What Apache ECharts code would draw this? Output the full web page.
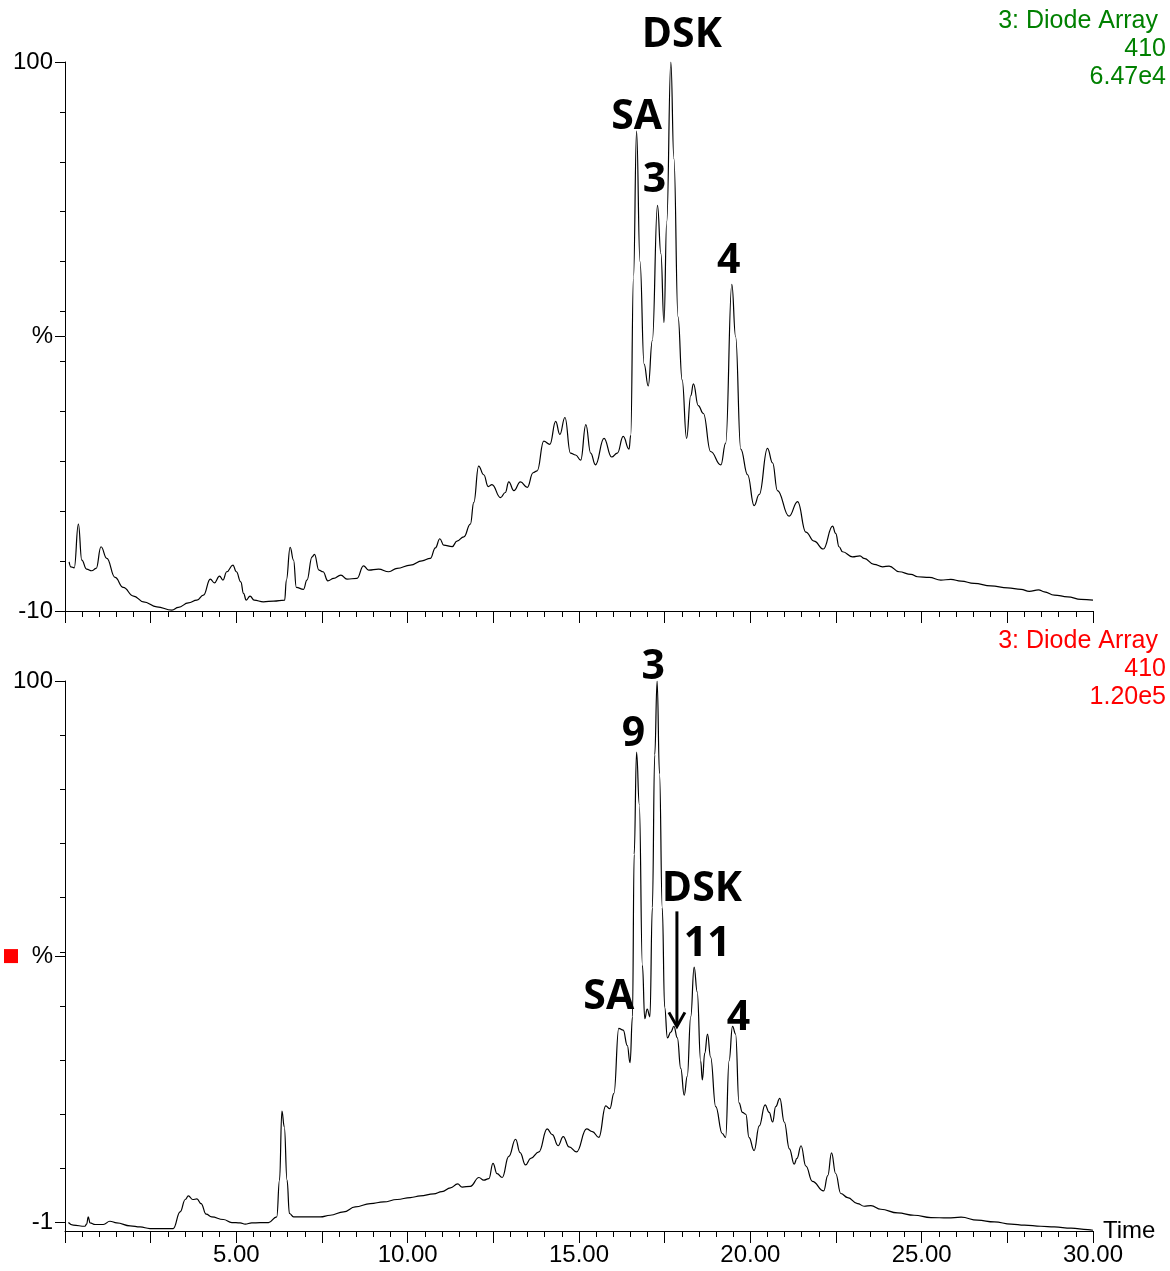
<!DOCTYPE html>
<html><head><meta charset="utf-8">
<script src="https://cdn.jsdelivr.net/npm/echarts@6/dist/echarts.min.js"></script>
<style>html,body{margin:0;padding:0;background:#fff}#c{width:1170px;height:1271px}</style>
</head><body><div id="c"></div>
<script>
// ---------- DATA ----------
const topTimes = [0.12,0.17,0.27,0.39,0.49,0.63,0.78,0.91,1.05,1.22,1.46,1.70,2.00,2.29,2.68,3.12,3.31,3.60,3.85,4.04,4.24,4.36,4.51,4.61,4.72,4.90,5.00,5.13,5.21,5.29,5.40,5.52,5.79,6.09,6.41,6.46,6.57,6.67,6.75,6.96,7.06,7.21,7.28,7.41,7.53,7.67,7.84,8.05,8.23,8.52,8.71,8.86,9.15,9.45,9.69,10.08,10.42,10.66,10.81,10.94,11.05,11.30,11.44,11.64,11.83,11.93,12.07,12.22,12.35,12.46,12.71,12.85,12.95,13.10,13.29,13.49,13.66,13.78,13.97,14.15,14.32,14.44,14.59,14.75,14.90,15.05,15.20,15.34,15.48,15.73,15.95,16.12,16.29,16.46,16.51,16.59,16.68,16.78,16.90,17.02,17.14,17.29,17.39,17.48,17.56,17.68,17.77,17.89,18.01,18.14,18.26,18.34,18.48,18.63,18.84,19.14,19.28,19.46,19.57,19.72,19.92,20.11,20.26,20.50,20.65,20.79,21.13,21.38,21.62,21.86,22.13,22.40,22.49,22.59,22.69,22.98,23.20,23.32,23.61,23.86,24.05,24.34,24.69,24.88,25.22,25.56,25.85,26.15,26.53,27.02,27.51,27.90,28.14,28.41,28.58,28.87,29.26,29.65,30.00];
const topValues = [-0.14,-1.14,-1.34,7.41,0.2,-1.6,-1.94,-1.46,2.87,0.54,-3.27,-5.27,-7.01,-8.16,-9.16,-9.82,-9.28,-8.36,-7.82,-6.81,-3.61,-4.35,-3.0,-3.8,-2.14,-0.8,-2.14,-4.15,-6.47,-7.82,-7.01,-7.82,-8.16,-8.02,-7.82,-3.81,2.75,0.2,-5.27,-5.67,-3.81,0.86,1.34,-1.8,-2.14,-3.95,-3.47,-2.8,-3.61,-3.47,-0.94,-1.8,-1.6,-2.14,-1.46,-0.8,0.06,0.54,2.66,4.48,3.21,2.9,4.0,4.87,7.4,11.76,19.04,17.3,14.93,15.32,12.71,13.74,15.87,14.13,15.87,14.77,17.7,18.09,24.02,23.39,27.98,25.37,28.77,21.65,21.26,20.23,27.35,21.65,19.28,24.58,20.86,21.65,24.97,22.44,25.21,56.87,86.15,60.03,39.46,35.1,44.2,71.27,61.62,47.77,67.95,100,80.61,48.95,36.29,24.58,33.13,35.5,31.15,29.57,21.96,19.28,23.63,55.44,45.0,22.44,17.3,11.13,13.34,22.6,19.67,14.13,8.99,11.92,5.82,4.0,2.42,7.0,5.55,2.87,1.87,0.86,1.06,0.54,-0.66,-1.14,-1.0,-2.14,-2.67,-3.14,-3.27,-3.81,-3.67,-4.0,-4.47,-4.95,-5.35,-5.67,-6.07,-5.75,-6.15,-6.81,-7.15,-7.68,-7.82];

const bottomTimes = [0.10,0.24,0.58,0.63,0.68,0.73,0.88,1.12,1.31,1.51,1.90,2.19,2.48,3.16,3.36,3.51,3.60,3.73,3.85,3.97,4.12,4.28,4.62,4.87,5.11,5.26,5.45,5.94,6.18,6.26,6.33,6.40,6.48,6.55,6.67,7.16,7.45,7.74,8.13,8.47,8.91,9.30,9.69,10.08,10.37,10.76,11.00,11.25,11.46,11.59,11.83,12.08,12.22,12.37,12.49,12.61,12.76,12.95,13.15,13.28,13.44,13.59,13.83,14.07,14.22,14.39,14.54,14.71,14.93,15.22,15.39,15.58,15.78,15.90,16.02,16.16,16.29,16.41,16.49,16.56,16.61,16.68,16.76,16.85,16.92,16.99,17.07,17.14,17.21,17.28,17.35,17.43,17.50,17.58,17.68,17.77,17.87,17.97,18.07,18.16,18.26,18.36,18.45,18.55,18.60,18.67,18.75,18.84,18.99,19.18,19.28,19.38,19.48,19.57,19.67,19.77,19.87,19.96,20.11,20.26,20.43,20.55,20.65,20.74,20.86,20.99,21.14,21.28,21.36,21.48,21.62,21.81,22.14,22.26,22.37,22.49,22.64,22.84,23.13,23.32,23.52,23.81,24.30,24.78,25.27,25.76,26.15,26.63,27.12,27.61,28.00,28.48,28.87,29.36,29.85,30.00];
const bottomValues = [-0.99,-1.49,-1.68,-1.3,0.06,-1.06,-1.36,-1.36,-0.75,-1.06,-1.62,-1.81,-2.11,-2.11,0.99,3.3,3.97,3.3,3.41,2.54,0.56,0.06,-0.43,-0.99,-1.06,-1.3,-1.06,-0.99,0.06,6.9,19.78,16.85,6.9,0.69,0.06,0.06,0.06,0.37,0.99,1.92,2.54,2.85,3.3,3.67,3.97,4.34,4.77,5.48,6.2,5.63,5.77,7.41,6.91,7.2,10.05,8.12,7.41,11.33,14.54,12.04,9.76,10.97,12.19,16.47,15.4,13.33,15.04,13.12,12.19,16.47,15.97,14.9,20.75,20.25,23.11,35.23,34.88,32.02,28.81,37.38,67.69,86.75,76.97,47.0,37.02,38.8,37.38,57.71,86.25,100,82.68,57.71,39.16,33.45,34.52,35.59,33.45,27.74,22.75,26.32,37.38,46.65,42.01,29.17,25.6,30.6,34.16,29.88,20.61,15.61,14.9,29.17,35.59,34.16,21.32,19.54,19.18,14.9,12.41,17.04,20.96,19.54,17.76,20.61,22.18,17.76,12.76,9.9,10.97,13.33,9.55,6.7,4.91,7.77,12.0,8.15,4.42,3.67,2.55,2.05,2.18,1.49,0.8,0.37,-0.06,-0.13,0.0,-0.56,-0.87,-1.3,-1.49,-1.68,-1.81,-2.05,-2.3,-2.43];

const xTickValues = [5, 10, 15, 20, 25, 30];
const xTickLabels = ['5.00', '10.00', '15.00', '20.00', '25.00', '30.00'];
const topYTicks = [100, 90, 80, 70, 60, 50, 40, 30, 20, 10, 0, -10];
const topYLabelValues = [100, 45, -10];
const topYLabelTexts = ['100', '%', '-10'];
const bottomYTicks = [100, 89.9, 79.8, 69.7, 59.6, 49.5, 39.4, 29.3, 19.2, 9.1, -1];
const bottomYLabelValues = [100, 48.7, -1];
const bottomYLabelTexts = ['100', '%', '-1'];
const topInfo = ['3: Diode Array', '410', '6.47e4'];
const bottomInfo = ['3: Diode Array', '410', '1.20e5'];
const topPeakNames = ['SA', '3', 'DSK', '4'];
const topPeakTimes = [16.68, 17.29, 17.68, 19.46];
const topPeakValues = [86.15, 71.27, 100, 55.44];
const bottomPeakNames = ['9', '3', 'SA', 'DSK', '11', '4'];
const bottomPeakTimes = [16.68, 17.28, 16.16, 17.77, 18.36, 19.48];
const bottomPeakValues = [86.75, 100, 35.23, 35.59, 46.65, 35.59];

// ---------- STYLE ----------
const FONT = '"Liberation Sans", Arial, Helvetica, sans-serif';
const LABEL_FONT = '"Open Sans", "Noto Sans", sans-serif';
const TOP_COLOR = '#008000';
const BOTTOM_COLOR = '#ff0000';

function pairs(ts, vs) { return ts.map((t, i) => [t, vs[i]]); }
function near(a, b) { return Math.abs(a - b) < 1e-6; }
function yLabelFormatter(vals, texts) {
  return function (v) {
    for (let i = 0; i < vals.length; i++) if (near(v, vals[i])) return texts[i];
    return '';
  };
}

function xAxis(gridIndex, withLabels) {
  return {
    type: 'value', gridIndex: gridIndex, min: 0, max: 30, interval: 2.5,
    axisLine: { show: true, onZero: false, lineStyle: { color: '#000', width: 1 } },
    axisTick: { show: true, length: 12, lineStyle: { color: '#000', width: 1 } },
    minorTick: { show: true, splitNumber: 5, length: 6, lineStyle: { color: '#000', width: 1 } },
    splitLine: { show: false }, minorSplitLine: { show: false },
    axisLabel: {
      show: withLabels, margin: 12, fontSize: 24, fontFamily: FONT, color: '#000',
      formatter: function (v) {
        const i = xTickValues.findIndex(x => near(x, v));
        return i >= 0 ? xTickLabels[i] : '';
      }
    },
    name: withLabels ? 'Time' : '',
    nameLocation: 'end', nameGap: 10,
    nameTextStyle: { fontSize: 24, fontFamily: FONT, color: '#000', align: 'left', verticalAlign: 'middle' }
  };
}

function yAxisMain(gridIndex, min, ticks) {
  return {
    type: 'value', gridIndex: gridIndex, min: min, max: 100, position: 'left',
    axisLine: { show: true, lineStyle: { color: '#000', width: 1 } },
    axisTick: { show: true, length: 5, customValues: ticks, lineStyle: { color: '#000', width: 1 } },
    axisLabel: { show: false },
    splitLine: { show: false }
  };
}
function yAxisLabels(gridIndex, min, vals, texts) {
  return {
    type: 'value', gridIndex: gridIndex, min: min, max: 100, position: 'left',
    axisLine: { show: false },
    axisTick: { show: true, length: 10, customValues: vals, lineStyle: { color: '#000', width: 1 } },
    axisLabel: {
      show: true, margin: 12, fontSize: 24, fontFamily: FONT, color: '#000',
      customValues: vals, formatter: yLabelFormatter(vals, texts)
    },
    splitLine: { show: false }
  };
}

const chart = echarts.init(document.getElementById('c'), null, { renderer: 'canvas' });
const option = {
  animation: false,
  backgroundColor: '#fff',
  grid: [
    { left: 65, right: 77, top: 62, height: 549 },
    { left: 65, right: 77, top: 681, height: 550 }
  ],
  xAxis: [xAxis(0, false), xAxis(1, true)],
  yAxis: [
    yAxisMain(0, -10, topYTicks),
    yAxisLabels(0, -10, topYLabelValues, topYLabelTexts),
    yAxisMain(1, -2.57, bottomYTicks),
    yAxisLabels(1, -2.57, bottomYLabelValues, bottomYLabelTexts)
  ],
  series: [
    {
      type: 'line', xAxisIndex: 0, yAxisIndex: 0, data: pairs(topTimes, topValues),
      showSymbol: false, smooth: 0.45, smoothMonotone: 'x',
      lineStyle: { color: '#000', width: 1.2 }, silent: true
    },
    {
      type: 'line', xAxisIndex: 1, yAxisIndex: 2, data: pairs(bottomTimes, bottomValues),
      showSymbol: false, smooth: 0.45, smoothMonotone: 'x',
      lineStyle: { color: '#000', width: 1.2 }, silent: true
    }
  ]
};
chart.setOption(option);

// ---------- ANNOTATIONS (positioned from data via the chart's own scales) ----------
const graphics = [];
function infoText(lines, color, ys, rights) {
  lines.forEach((s, i) => {
    graphics.push({
      type: 'text', z: 10,
      style: { text: s, x: rights[i], y: ys[i], textAlign: 'right', textVerticalAlign: 'middle',
               font: '25px ' + FONT, fill: color }
    });
  });
}
infoText(topInfo, TOP_COLOR, [21, 49, 77], [1158, 1166, 1166]);
infoText(bottomInfo, BOTTOM_COLOR, [641, 669, 697], [1158, 1166, 1166]);

// red square by the lower % label
const pctPix = chart.convertToPixel({ xAxisIndex: 1, yAxisIndex: 2 }, [0, bottomYLabelValues[1]]);
graphics.push({ type: 'rect', shape: { x: 4, y: pctPix[1] - 7, width: 14, height: 14 }, style: { fill: BOTTOM_COLOR } });

// peak name offsets in pixels (text centre relative to the peak apex)
const topOffsets = { 'SA': [0, -14], '3': [-3, -25], 'DSK': [11, -27], '4': [-3, -23] };
const bottomOffsets = { '9': [-3, -18], '3': [-4, -14], 'SA': [-10, -31], 'DSK': [28, -137], '11': [13, -23], '4': [6, -8] };
function peakLabels(names, ts, vs, offsets, finder) {
  names.forEach((n, i) => {
    const p = chart.convertToPixel(finder, [ts[i], vs[i]]);
    const o = offsets[n];
    graphics.push({
      type: 'text', z: 10,
      style: { text: n, x: p[0] + o[0], y: p[1] + o[1], textAlign: 'center', textVerticalAlign: 'middle',
               font: 'bold 41px ' + LABEL_FONT, fill: '#000' }
    });
  });
}
peakLabels(topPeakNames, topPeakTimes, topPeakValues, topOffsets, { xAxisIndex: 0, yAxisIndex: 0 });
peakLabels(bottomPeakNames, bottomPeakTimes, bottomPeakValues, bottomOffsets, { xAxisIndex: 1, yAxisIndex: 2 });

// arrow from DSK label down to the DSK shoulder in the lower trace
const di = bottomPeakNames.indexOf('DSK');
const tip = chart.convertToPixel({ xAxisIndex: 1, yAxisIndex: 2 }, [bottomPeakTimes[di], bottomPeakValues[di]]);
const ax = tip[0] + 3, ay = tip[1];
graphics.push({ type: 'line', z: 11, shape: { x1: ax, y1: ay - 115, x2: ax, y2: ay - 2 }, style: { stroke: '#000', lineWidth: 3 } });
graphics.push({ type: 'polyline', z: 11, shape: { points: [[ax - 8, ay - 14], [ax, ay], [ax + 8, ay - 14]] }, style: { stroke: '#000', lineWidth: 3, fill: null } });

chart.setOption({ graphic: graphics });
</script>
</body></html>
